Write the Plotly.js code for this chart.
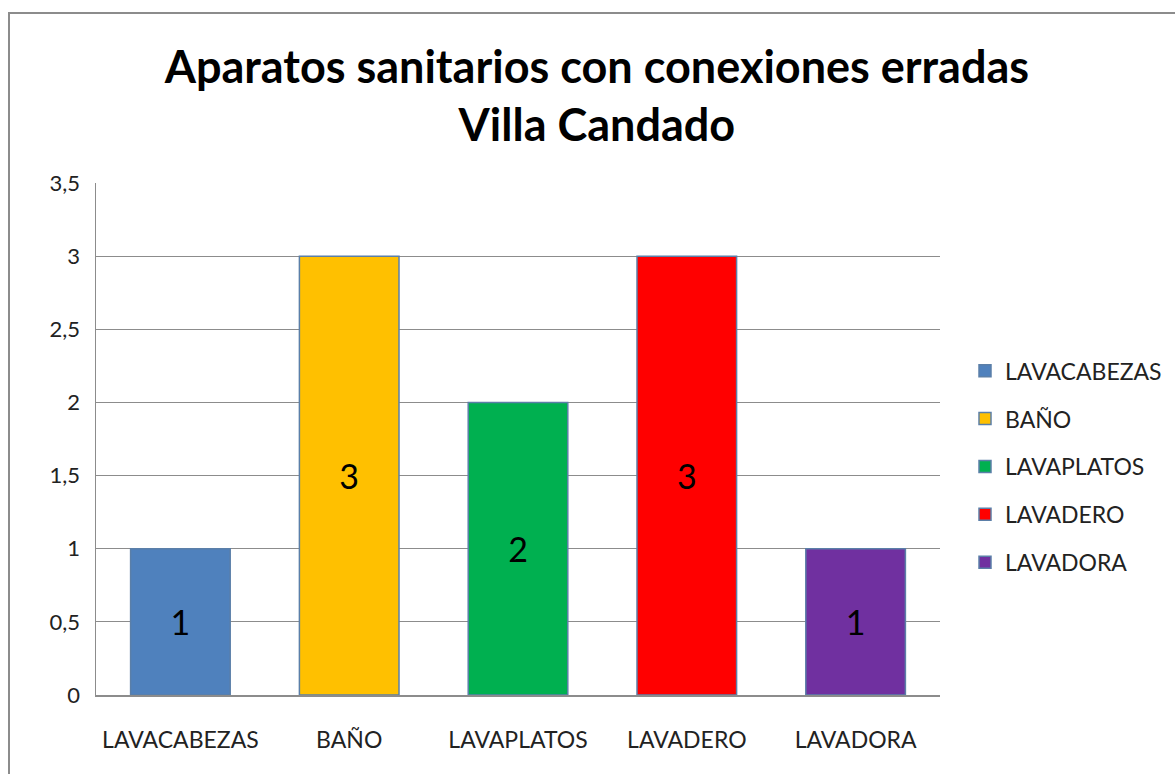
<!DOCTYPE html>
<html>
<head>
<meta charset="utf-8">
<script src="https://cdn.plot.ly/plotly-3.0.1.min.js"></script>
<style>
html,body{margin:0;padding:0;overflow:hidden;background:#fff;}
#chart{width:1175px;height:774px;}
#frame{position:absolute;left:8px;top:12px;width:1200px;height:800px;border:2px solid #8c8c8c;pointer-events:none;}
</style>
</head>
<body>
<div id="chart"></div>
<div id="frame"></div>
<script>
const categories = ["LAVACABEZAS", "BAÑO", "LAVAPLATOS", "LAVADERO", "LAVADORA"];
const values = [1, 3, 2, 3, 1];
const colors = ["#4F81BD", "#FFC000", "#00B050", "#FF0000", "#7030A0"];
const yTicks = [0, 0.5, 1, 1.5, 2, 2.5, 3, 3.5];

const FONT = "Lato, 'Open Sans', sans-serif";

const traces = categories.map((c, i) => ({
  type: "bar",
  name: c,
  legendgroup: c,
  x: [c],
  y: [values[i]],
  text: [String(values[i])],
  textposition: "inside",
  insidetextanchor: "middle",
  textangle: 0,
  textfont: {family: FONT, size: 34, color: "#000"},
  marker: {color: colors[i], line: {color: "#5b7fa8", width: 1.5}},
  hoverinfo: "none"
}));

const layout = {
  width: 1175, height: 774,
  margin: {l: 96, r: 235, t: 183, b: 79},
  paper_bgcolor: "#fff", plot_bgcolor: "#fff",
  barmode: "overlay",
  bargap: 0.41,
  separators: ",.",
  font: {family: FONT, color: "#222"},
  title: {
    text: "<b>Aparatos sanitarios con conexiones erradas<br>Villa Candado</b>",
    font: {family: FONT, size: 45, color: "#000"},
    x: 0.508, xref: "container", xanchor: "center",
    y: 0.893, yref: "container", yanchor: "middle"
  },
  xaxis: {
    categoryorder: "array", categoryarray: categories,
    showgrid: false, showline: true, linecolor: "#8c8c8c", linewidth: 1.5,
    ticks: "", ticklabelstandoff: 24,
    tickfont: {family: FONT, size: 23, color: "#222"},
    fixedrange: true
  },
  yaxis: {
    range: [0, 3.5], tickvals: yTicks,
    showgrid: true, gridcolor: "#8c8c8c", gridwidth: 1,
    showline: true, linecolor: "#8c8c8c", linewidth: 1.5,
    zeroline: false,
    ticks: "", ticklabelstandoff: 10,
    tickfont: {family: FONT, size: 22, color: "#222"},
    fixedrange: true
  },
  legend: {
    x: 965 / 1175, xref: "container", xanchor: "left",
    y: 0.397, yref: "container", yanchor: "middle",
    font: {family: FONT, size: 23, color: "#222"},
    tracegroupgap: 15,
    traceorder: "grouped",
    bgcolor: "rgba(0,0,0,0)"
  },
  showlegend: true
};

Plotly.newPlot("chart", traces, layout, {displayModeBar: false, staticPlot: true});
</script>
</body>
</html>
